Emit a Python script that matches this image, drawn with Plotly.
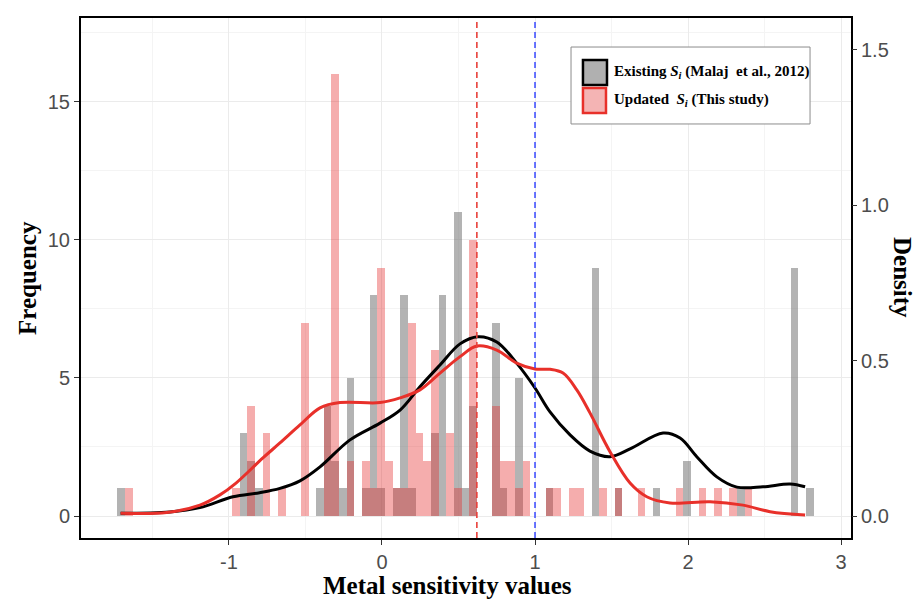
import plotly.graph_objects as go

# ---------------- data ----------------
bin_width = 0.05

existing_bins = [-1.705, -0.905, -0.855, -0.805, -0.405, -0.355, -0.305, -0.255, -0.205,
                 -0.105, -0.055, -0.005, 0.095, 0.145, 0.195, 0.345, 0.395, 0.495, 0.545,
                 0.595, 0.745, 0.795, 0.895, 1.095, 1.395, 1.545, 1.795, 1.995, 2.345,
                 2.695, 2.795]
existing_counts = [1, 3, 2, 1, 1, 4, 2, 1, 5,
                   1, 8, 1, 1, 8, 1, 3, 8, 11, 1,
                   4, 7, 1, 5, 1, 9, 1, 1, 2, 1,
                   9, 1]

updated_bins = [-1.655, -0.955, -0.855, -0.755, -0.655, -0.505, -0.355, -0.305, -0.205,
                -0.105, -0.055, -0.005, 0.045, 0.095, 0.145, 0.195, 0.245, 0.295, 0.345,
                0.445, 0.495, 0.595, 0.745, 0.795, 0.845, 0.895, 0.945, 1.095, 1.145,
                1.245, 1.295, 1.445, 1.545, 1.695, 1.945, 2.095, 2.195, 2.295, 2.395]
updated_counts = [1, 1, 4, 3, 1, 7, 4, 16, 2,
                  2, 1, 9, 2, 1, 1, 7, 3, 2, 6,
                  3, 1, 10, 4, 2, 2, 1, 2, 1, 1,
                  1, 1, 1, 1, 1, 1, 1, 1, 1, 1]

existing_dens_x = [-1.708, -1.386, -1.190, -0.974, -0.80, -0.667, -0.536, -0.405, -0.209,
                   -0.013, 0.118, 0.248, 0.379, 0.510, 0.627, 0.750, 0.880, 1.0, 1.098,
                   1.229, 1.359, 1.490, 1.621, 1.837, 1.948, 2.057, 2.188, 2.319, 2.490,
                   2.667, 2.765]
existing_dens_y = [0.009, 0.013, 0.027, 0.062, 0.075, 0.089, 0.113, 0.158, 0.245,
                   0.299, 0.341, 0.416, 0.486, 0.554, 0.577, 0.560, 0.492, 0.412, 0.335,
                   0.261, 0.209, 0.191, 0.216, 0.267, 0.251, 0.191, 0.126, 0.093, 0.094,
                   0.103, 0.094]

updated_dens_x = [-1.708, -1.407, -1.190, -1.059, -0.954, -0.778, -0.667, -0.536, -0.405,
                  -0.275, -0.013, 0.118, 0.248, 0.379, 0.510, 0.621, 0.750, 0.880, 1.0,
                  1.098, 1.183, 1.273, 1.359, 1.490, 1.621, 1.730, 1.882, 2.144, 2.359,
                  2.536, 2.765]
updated_dens_y = [0.009, 0.011, 0.035, 0.068, 0.106, 0.187, 0.235, 0.293, 0.348,
                  0.365, 0.365, 0.380, 0.406, 0.460, 0.513, 0.547, 0.534, 0.492, 0.473,
                  0.472, 0.460, 0.406, 0.332, 0.207, 0.106, 0.062, 0.042, 0.046, 0.035,
                  0.014, 0.003]

updated_mean = 0.62
threshold = 1.0

x_tick_vals = [-1, 0, 1, 2, 3]
x_tick_text = ["-1", "0", "1", "2", "3"]
y_tick_vals = [0, 5, 10, 15]
y2_tick_vals = [0, 0.5, 1.0, 1.5]
y2_tick_text = ["0.0", "0.5", "1.0", "1.5"]

legend_existing = "Existing <i>S<sub>i</sub></i> (Malaj\u00a0 et al., 2012)"
legend_updated = "Updated\u00a0 <i>S<sub>i</sub></i> (This study)"

# ---------------- styles ----------------
GREY_BAR = "rgba(120,120,120,0.56)"
RED_BAR = "rgba(228,40,40,0.38)"
TICK_FONT = dict(family="Liberation Sans, Arial", size=20, color="#4d4d4d")
SERIF = "Liberation Serif, Times New Roman"

fig = go.Figure()
fig.add_trace(go.Bar(x=existing_bins, y=existing_counts, width=bin_width,
                     marker=dict(color=GREY_BAR, line=dict(width=0)),
                     name="Existing", showlegend=False))
fig.add_trace(go.Bar(x=updated_bins, y=updated_counts, width=bin_width,
                     marker=dict(color=RED_BAR, line=dict(width=0)),
                     name="Updated", showlegend=False))
fig.add_trace(go.Scatter(x=existing_dens_x, y=existing_dens_y, yaxis="y2", mode="lines",
                         line=dict(color="black", width=3, shape="spline", smoothing=1.0),
                         showlegend=False))
fig.add_trace(go.Scatter(x=updated_dens_x, y=updated_dens_y, yaxis="y2", mode="lines",
                         line=dict(color="#e8302a", width=3, shape="spline", smoothing=1.0),
                         showlegend=False))

# vertical reference lines
fig.add_shape(type="line", xref="x", yref="paper", x0=updated_mean, x1=updated_mean, y0=0, y1=1,
              line=dict(color="#e8403a", width=1.6, dash="6px,4px"))
fig.add_shape(type="line", xref="x", yref="paper", x0=threshold, x1=threshold, y0=0, y1=1,
              line=dict(color="#2b3cff", width=1.4, dash="6px,4px"))

# manual legend box
fig.add_shape(type="rect", xref="paper", yref="paper", x0=0.6364, x1=0.9468, y0=0.7962, y1=0.9442,
              fillcolor="white", line=dict(color="#8c8c8c", width=1))
fig.add_shape(type="rect", xref="paper", yref="paper", x0=0.6519, x1=0.6831, y0=0.8712, y1=0.9192,
              fillcolor="#b0b0b0", line=dict(color="black", width=2.5))
fig.add_shape(type="rect", xref="paper", yref="paper", x0=0.6519, x1=0.6818, y0=0.8173, y1=0.8654,
              fillcolor="#f4b4b4", line=dict(color="#e8302a", width=2.5))
fig.add_annotation(xref="paper", yref="paper", x=0.6896, y=0.896, xanchor="left", yanchor="middle",
                   text="<b>" + legend_existing + "</b>", showarrow=False,
                   font=dict(family=SERIF, size=15, color="black"))
fig.add_annotation(xref="paper", yref="paper", x=0.6896, y=0.842, xanchor="left", yanchor="middle",
                   text="<b>" + legend_updated + "</b>", showarrow=False,
                   font=dict(family=SERIF, size=15, color="black"))

# axis titles
fig.add_annotation(xref="paper", yref="paper", x=0.4766, y=-0.092, xanchor="center", yanchor="middle",
                   text="<b>Metal sensitivity values</b>", showarrow=False,
                   font=dict(family=SERIF, size=25, color="black"))
fig.add_annotation(xref="paper", yref="paper", x=-0.0701, y=0.5, xanchor="center", yanchor="middle",
                   text="<b>Frequency</b>", textangle=-90, showarrow=False,
                   font=dict(family=SERIF, size=25, color="black"))
fig.add_annotation(xref="paper", yref="paper", x=1.0675, y=0.5, xanchor="center", yanchor="middle",
                   text="<b>Density</b>", textangle=90, showarrow=False,
                   font=dict(family=SERIF, size=25, color="black"))

fig.update_layout(
    width=917, height=609,
    margin=dict(l=81, r=66, t=18, b=71),
    paper_bgcolor="white", plot_bgcolor="white",
    barmode="overlay", bargap=0,
    showlegend=False,
    xaxis=dict(range=[-1.967, 3.065], tickvals=x_tick_vals, ticktext=x_tick_text,
               ticks="outside", ticklen=5, tickwidth=1, tickcolor="#333333",
               showline=True, linecolor="black", linewidth=2, mirror=True,
               showgrid=True, gridcolor="#ebebeb", gridwidth=1, zeroline=False,
               minor=dict(tickvals=[-1.5, -0.5, 0.5, 1.5, 2.5], showgrid=True,
                          gridcolor="#f4f4f4", gridwidth=1, ticks=""),
               tickfont=TICK_FONT),
    yaxis=dict(range=[-0.797, 18.04], tickvals=y_tick_vals,
               ticks="outside", ticklen=5, tickwidth=1, tickcolor="#333333",
               showline=True, linecolor="black", linewidth=2, mirror=True,
               showgrid=True, gridcolor="#ebebeb", gridwidth=1, zeroline=False,
               minor=dict(tickvals=[2.5, 7.5, 12.5, 17.5], showgrid=True,
                          gridcolor="#f4f4f4", gridwidth=1, ticks=""),
               tickfont=TICK_FONT),
    yaxis2=dict(overlaying="y", side="right", range=[-0.0708, 1.6028],
                tickvals=y2_tick_vals, ticktext=y2_tick_text,
                ticks="outside", ticklen=5, tickwidth=1, tickcolor="#333333",
                showline=False, showgrid=False, zeroline=False,
                tickfont=TICK_FONT),
)

fig.write_html("out.html",
               config={"displayModeBar": False},
               post_script="document.body.style.margin='0';document.body.style.overflow='hidden';")
